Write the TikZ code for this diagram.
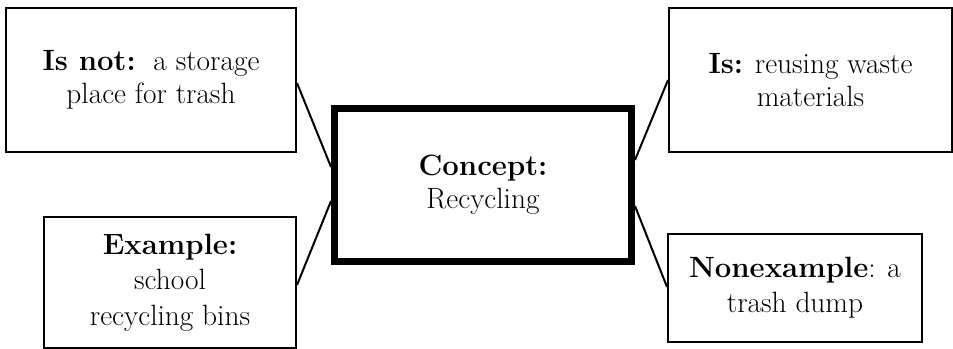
\documentclass[tikz,border=0pt]{standalone}
\begin{document}
\begin{tikzpicture}[x=0.75pt,y=-0.75pt,
  box/.style={draw,line width=1.5pt,rectangle,align=center,inner sep=0pt,
    font=\fontsize{22}{25}\selectfont},
  mainbox/.style={draw,line width=5.25pt,rectangle,align=center,inner sep=0pt,
    font=\fontsize{22}{25}\selectfont},
  conn/.style={line width=1.5pt}]
\useasboundingbox (0,0) rectangle (953,349);
\node[box,minimum width=217.5pt,minimum height=108pt] (tl) at (151,80)
  {\textbf{Is not:}\ \ a storage\\place for trash};
\node[box,minimum width=212.25pt,minimum height=108pt] (tr) at (810.5,80)
  {\textbf{Is:} reusing waste\\materials};
\node[box,minimum width=189pt,minimum height=98.25pt,
  font=\fontsize{22}{26.5}\selectfont] (bl) at (170,282.5)
  {\textbf{Example:}\\school\\recycling bins};
\node[box,minimum width=190.5pt,minimum height=81pt,
  font=\fontsize{22}{26}\selectfont] (br) at (795,288)
  {\textbf{Nonexample}: a\\trash dump};
\node[mainbox,minimum width=222.75pt,minimum height=114.75pt] (c) at (483,185)
  {\textbf{Concept:}\\Recycling};
\draw[conn] ([yshift=-2.25pt]tl.east) -- ([yshift=13.5pt]c.west);
\draw[conn] (tr.west) -- ([yshift=18.75pt]c.east);
\draw[conn] ([yshift=-1.9pt]bl.east) -- ([yshift=-12pt]c.west);
\draw[conn] ([yshift=0.75pt]br.west) -- ([yshift=-15.75pt]c.east);
\end{tikzpicture}
\end{document}
